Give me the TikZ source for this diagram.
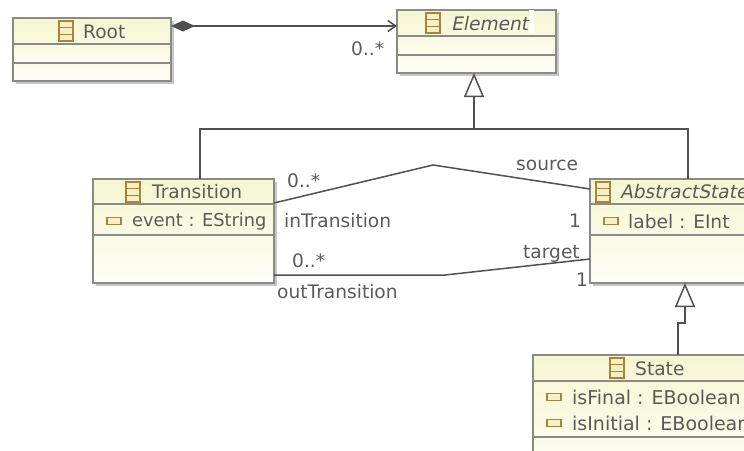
\documentclass[tikz,border=0pt]{standalone}
\usepackage{fontspec}
\setmainfont{DejaVu Sans}
\newfontfamily\slantfont[FakeSlant=0.2]{DejaVu Sans}
\usetikzlibrary{positioning,shadows,arrows.meta}

\definecolor{boxline}{HTML}{8A8A8A}
\definecolor{boxtop}{HTML}{F6F6D2}
\definecolor{boxbottom}{HTML}{FEFEF6}
\definecolor{iconline}{HTML}{A8853A}
\definecolor{iconfill}{HTML}{F8F0C4}
\definecolor{inktext}{HTML}{5A5A5A}
\definecolor{inkline}{HTML}{505050}

\tikzset{
    umlclass/.style={draw=boxline, line width=1.4pt, top color=boxtop, bottom color=boxbottom,
        anchor=north west, inner sep=0pt, outer sep=0pt, drop shadow={shadow xshift=2.5pt, shadow yshift=-2.5pt, fill=black!40, opacity=0.55}},
    complabel/.style={anchor=west, inner sep=0pt, text=inktext, font=\fontsize{18.6}{20}\selectfont},
    widelabel/.style={complabel, font=\fontsize{19}{20}\selectfont},
    narrowlabel/.style={complabel, font=\fontsize{17.8}{20}\selectfont},
    compline/.style={draw=boxline, line width=1.4pt},
    assoc/.style={draw=inkline, line width=1.5pt},
    inherit/.style={assoc, -{Triangle[open, fill=white, length=24pt, width=20pt, line width=1.5pt]}},
    classicon/.pic={
        \draw[iconline, fill=iconfill, line width=1.1pt] (0,-10) rectangle (14,10);
        \draw[iconline, line width=1.1pt] (0,-3.3) -- (14,-3.3) (0,3.3) -- (14,3.3);
    },
    attricon/.pic={
        \draw[iconline, fill=iconfill, line width=1.1pt] (0,-3.5) rectangle (14,3.5);
    }
}

\begin{document}
\begin{tikzpicture}[x=1pt, y=-1pt]
    \useasboundingbox (0,0) rectangle (744,450);
    \clip (0,0) rectangle (744,450);

    \node[umlclass, minimum width=158pt, minimum height=63pt] (root) at (13,18) {};
    \node[umlclass, minimum width=159pt, minimum height=63pt] (element) at (397,10) {};
    \node[umlclass, minimum width=181pt, minimum height=104pt] (transition) at (93,179) {};
    \node[umlclass, minimum width=196pt, minimum height=104pt] (abstractstate) at (590,179) {};
    \node[umlclass, minimum width=260pt, minimum height=130pt] (state) at (533,355) {};

    \draw[compline] (root.west |- 0,44) -- (root.east |- 0,44);
    \draw[compline] (root.west |- 0,63) -- (root.east |- 0,63);
    \draw[compline] (element.west |- 0,36) -- (element.east |- 0,36);
    \draw[compline] (element.west |- 0,55) -- (element.east |- 0,55);
    \draw[compline] (transition.west |- 0,204) -- (transition.east |- 0,204);
    \draw[compline] (transition.west |- 0,235) -- (transition.east |- 0,235);
    \draw[compline] (abstractstate.west |- 0,204) -- (abstractstate.east |- 0,204);
    \draw[compline] (abstractstate.west |- 0,235) -- (abstractstate.east |- 0,235);
    \draw[compline] (state.west |- 0,381) -- (state.east |- 0,381);
    \draw[compline] (state.west |- 0,437) -- (state.east |- 0,437);

    \fill[white] (529,10) rectangle (534,33);

    \pic at (59,31) {classicon};
    \pic at (426,23) {classicon};
    \pic at (126,192) {classicon};
    \pic at (596,192) {classicon};
    \pic at (610,368) {classicon};
    \pic at (107,221) {attricon};
    \pic at (604,221) {attricon};
    \pic at (547,397) {attricon};
    \pic at (547,423) {attricon};

    \node[complabel] (rootname) at (83,32) {Root};
    \node[complabel] (elementname) at (451,24) {\slantfont Element};
    \node[complabel] (transitionname) at (152,192) {Transition};
    \node[complabel] (abstractstatename) at (620,192) {\slantfont AbstractState};
    \node[complabel] (statename) at (635,369) {State};
    \node[narrowlabel] (eventattr) at (132,222) {event : EString};
    \node[complabel] (labelattr) at (628,222) {label : EInt};
    \node[widelabel] (isfinalattr) at (572,397) {isFinal : EBoolean};
    \node[widelabel] (isinitialattr) at (572,423) {isInitial : EBoolean};

    \coordinate (genjoin) at (474,129);
    \coordinate (inbend) at (433,165);
    \coordinate (outbend) at (445,275);
    \coordinate (stepupper) at (685,323);
    \coordinate (steplower) at (678,323);

    \draw[assoc, {Diamond[length=24pt, width=11pt]}-{Straight Barb[length=8pt, width=11pt]}]
        ([yshift=23.5pt]root.east) -- ([yshift=15.5pt]element.west);
    \draw[inherit] ([xshift=16.5pt]transition.north) |- (genjoin) -- ([xshift=-2.5pt]element.south);
    \draw[assoc] (abstractstate.north) |- (genjoin);
    \draw[assoc] ([yshift=28pt]transition.east) -- (inbend) -- ([yshift=42pt]abstractstate.west);
    \draw[assoc] ([yshift=-44pt]transition.east) -- (outbend) -- ([yshift=-28pt]abstractstate.west);
    \draw[inherit] (state.north -| steplower) -- (steplower) -- (stepupper) -- ([xshift=-3pt]abstractstate.south);

    \node[complabel] (manyelement) at (351,49) {0..*};
    \node[complabel] (manyin) at (287,181) {0..*};
    \node[complabel] (intransition) at (284,221) {inTransition};
    \node[complabel] (manyout) at (292,261) {0..*};
    \node[complabel] (outtransition) at (277,292) {outTransition};
    \node[complabel] (source) at (516,165) {source};
    \node[complabel] (onesource) at (569,221) {1};
    \node[complabel] (target) at (523,254) {target};
    \node[complabel] (onetarget) at (576,280) {1};
\end{tikzpicture}
\end{document}
